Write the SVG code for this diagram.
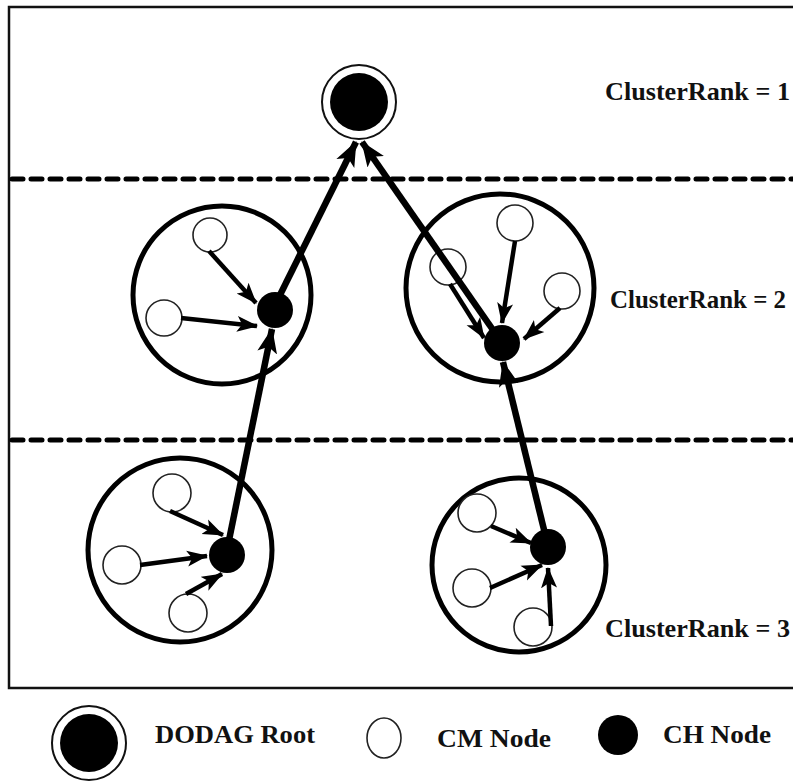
<svg xmlns="http://www.w3.org/2000/svg" width="793" height="782" viewBox="0 0 793 782">
<defs>
<style>
.frame{fill:none;stroke:#111;stroke-width:2.5}
.dash{stroke:#000;stroke-width:5;stroke-dasharray:11 8;stroke-linecap:round;fill:none}
.cluster{fill:none;stroke:#000;stroke-width:5}
.cm{fill:#fff;stroke:#222;stroke-width:1.6}
.ch{fill:#000}
.thin{stroke:#000;stroke-width:4.5;fill:none;marker-end:url(#ah)}
.thick{stroke:#000;stroke-width:6.5;fill:none;marker-end:url(#ahb)}
.lbl{fill:#111;font-family:"Liberation Serif",serif;font-weight:700;font-size:25px}
</style>
<marker id="ah" markerUnits="userSpaceOnUse" markerWidth="22" markerHeight="18" refX="20" refY="8" orient="auto" viewBox="0 0 22 16">
<path d="M0,0 L21,8 L0,16 L5,8 z" fill="#000"/>
</marker>
<marker id="ahb" markerUnits="userSpaceOnUse" markerWidth="26" markerHeight="22" refX="24" refY="10" orient="auto" viewBox="0 0 26 20">
<path d="M0,0 L25,10 L0,20 L6,10 z" fill="#000"/>
</marker>
</defs>
<rect width="793" height="782" fill="#fff"/>
<path class="frame" d="M800,7 L9,7 L9,688 L800,688"/>
<g id="dividers">
<line class="dash" x1="12" y1="179" x2="793" y2="179"/>
<line class="dash" x1="12" y1="440" x2="793" y2="440"/>
</g>
<g id="root">
<circle cx="359" cy="102" r="37" fill="#fff" stroke="#111" stroke-width="2"/>
<circle cx="359" cy="102" r="29" fill="#000"/>
</g>
<g id="cluster1">
<circle class="cluster" cx="222" cy="295" r="89"/>
<circle class="cm" cx="210" cy="235" r="17"/>
<circle class="cm" cx="164" cy="318" r="18"/>
<circle class="ch" cx="275" cy="310" r="18"/>
</g>
<g id="cluster2">
<circle class="cluster" cx="500" cy="288" r="94"/>
<circle class="cm" cx="515" cy="223" r="18"/>
<circle class="cm" cx="448" cy="267" r="18"/>
<circle class="cm" cx="562" cy="291" r="18"/>
<circle class="ch" cx="502" cy="343" r="18"/>
</g>
<g id="cluster3">
<circle class="cluster" cx="180" cy="550" r="92"/>
<circle class="cm" cx="172" cy="493" r="19"/>
<circle class="cm" cx="122" cy="565" r="19"/>
<circle class="cm" cx="188" cy="613" r="19"/>
<circle class="ch" cx="227" cy="555" r="18"/>
</g>
<g id="cluster4">
<circle class="cluster" cx="519" cy="565" r="87"/>
<circle class="cm" cx="477" cy="513" r="19"/>
<circle class="cm" cx="472" cy="588" r="19"/>
<circle class="cm" cx="533" cy="627" r="19"/>
<circle class="ch" cx="548" cy="547" r="18"/>
</g>
<g id="connectors">
<line class="thick" x1="275" y1="305" x2="356" y2="142"/>
<line class="thick" x1="500" y1="340" x2="362" y2="142"/>
<line class="thick" x1="227" y1="550" x2="272" y2="329"/>
<line class="thick" x1="547" y1="542" x2="503" y2="362"/>
<line class="thin" x1="209" y1="251" x2="256" y2="303"/>
<line class="thin" x1="181" y1="318" x2="257" y2="326"/>
<line class="thin" x1="515" y1="241" x2="502" y2="323"/>
<line class="thin" x1="450" y1="284" x2="484" y2="338"/>
<line class="thin" x1="560" y1="308" x2="524" y2="339"/>
<line class="thin" x1="170" y1="511" x2="223" y2="535"/>
<line class="thin" x1="140" y1="565" x2="207" y2="556"/>
<line class="thin" x1="186" y1="594" x2="222" y2="574"/>
<line class="thin" x1="491" y1="526" x2="531" y2="543"/>
<line class="thin" x1="490" y1="588" x2="542" y2="565"/>
<line class="thin" x1="551" y1="626" x2="548" y2="568"/>
</g>
<g id="labels">
<text class="lbl" x="605" y="100" textLength="185" lengthAdjust="spacingAndGlyphs">ClusterRank = 1</text>
<text class="lbl" x="610" y="308" textLength="176" lengthAdjust="spacingAndGlyphs">ClusterRank = 2</text>
<text class="lbl" x="605" y="637" textLength="185" lengthAdjust="spacingAndGlyphs">ClusterRank = 3</text>
</g>
<g id="legend">
<circle cx="89" cy="743" r="37" fill="#fff" stroke="#111" stroke-width="2"/>
<circle cx="89" cy="743" r="29" fill="#000"/>
<text class="lbl" x="155" y="743" textLength="160" lengthAdjust="spacingAndGlyphs">DODAG Root</text>
<ellipse class="cm" cx="384" cy="738" rx="17" ry="20"/>
<text class="lbl" x="437" y="747" textLength="114" lengthAdjust="spacingAndGlyphs">CM Node</text>
<ellipse class="ch" cx="618" cy="735" rx="20" ry="20"/>
<text class="lbl" x="663" y="743" textLength="108" lengthAdjust="spacingAndGlyphs">CH Node</text>
</g>
</svg>
